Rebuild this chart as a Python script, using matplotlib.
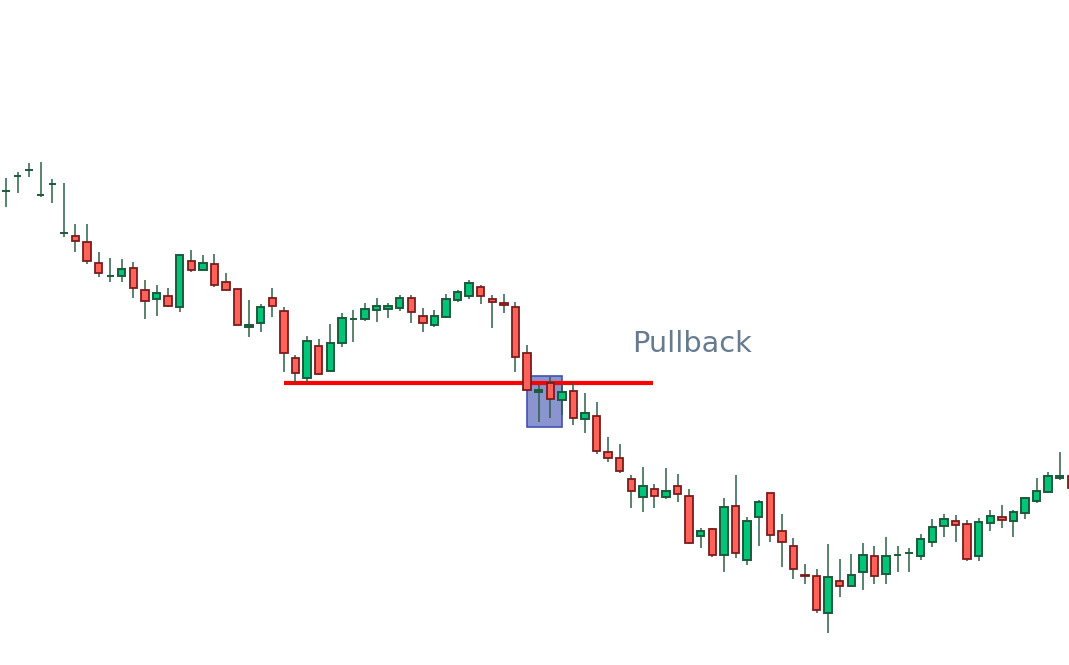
import numpy as np
import matplotlib.pyplot as plt
from matplotlib.patches import Rectangle

# OHLC (arbitrary price scale)
opens = [47.43, 48.9, 49.5, 46.97, 48.13, 43.17, 42.9, 42.27, 40.17, 38.9,
         38.9, 39.67, 37.53, 36.63, 36.93, 35.77, 40.4, 39.5, 40.07, 38.3,
         37.57, 33.77, 34.17, 36.67, 35.43, 30.67, 28.67, 31.9, 29.4, 32.25,
         34.6, 34.6, 35.5, 35.63, 35.73, 36.67, 34.9, 34.0, 34.77, 36.5,
         36.9, 37.77, 36.57, 36.17, 35.83, 31.17, 27.3, 28.17, 26.5, 27.4,
         24.63, 24.9, 21.27, 20.67, 18.57, 16.77, 17.57, 16.77, 17.9, 16.93,
         12.9, 13.57, 11.0, 15.9, 10.5, 14.83, 17.17, 13.43, 11.93, 9.03,
         8.9, 5.17, 8.43, 7.87, 9.27, 10.9, 9.13, 11.0, 11.25, 10.9,
         12.27, 13.9, 14.43, 14.07, 10.9, 14.17, 14.8, 14.4, 15.17, 16.4,
         17.27, 18.67, 18.93]

closes = [47.43, 48.9, 49.5, 46.97, 48.13, 43.17, 42.4, 40.4, 39.17, 38.9,
          39.57, 37.67, 36.4, 37.17, 35.9, 41.03, 39.5, 40.17, 38.0, 37.5,
          34.0, 34.0, 35.83, 35.9, 31.17, 29.17, 32.43, 29.1, 32.17, 34.67,
          34.6, 35.57, 35.9, 35.93, 36.67, 35.27, 34.17, 34.9, 36.57, 37.27,
          38.17, 36.9, 36.27, 36.03, 30.77, 27.5, 27.5, 26.63, 27.27, 24.67,
          25.17, 21.4, 20.67, 19.4, 17.4, 17.9, 16.9, 17.43, 17.07, 12.23,
          13.4, 11.0, 15.83, 11.23, 14.43, 16.33, 13.0, 12.27, 9.6, 8.9,
          5.5, 8.77, 7.87, 9.03, 11.03, 8.9, 10.9, 11.0, 11.25, 12.57,
          13.77, 14.57, 14.03, 10.63, 14.33, 14.9, 14.5, 15.33, 16.67, 17.4,
          18.93, 18.93, 17.67]

highs = [48.7, 49.3, 50.2, 50.33, 48.6, 48.17, 44.1, 44.1, 41.33, 40.67,
         40.6, 40.33, 38.5, 38.0, 37.73, 41.03, 41.5, 41.0, 41.1, 39.23,
         37.57, 36.5, 36.07, 37.67, 35.83, 31.0, 32.93, 32.6, 34.1, 35.17,
         35.5, 36.17, 36.67, 36.17, 37.0, 37.0, 35.67, 35.5, 37.1, 37.5,
         38.5, 38.0, 37.0, 37.1, 36.33, 32.0, 28.0, 28.83, 28.07, 28.17,
         27.17, 26.33, 22.83, 22.1, 19.0, 19.83, 18.1, 19.67, 19.1, 17.6,
         13.67, 13.67, 16.67, 19.0, 14.83, 16.5, 17.17, 15.1, 12.67, 10.1,
         9.57, 12.1, 10.57, 11.07, 12.23, 11.93, 12.83, 11.93, 11.67, 13.07,
         14.57, 15.1, 14.97, 14.5, 14.67, 15.5, 15.97, 15.5, 16.83, 18.67,
         19.33, 21.33, 18.93]

lows = [45.8, 47.2, 48.8, 46.83, 46.23, 42.77, 41.27, 40.1, 38.83, 38.33,
        38.33, 36.73, 34.57, 34.93, 35.77, 35.33, 39.33, 39.5, 37.83, 37.5,
        34.0, 32.83, 33.33, 34.77, 29.33, 28.17, 28.33, 29.0, 29.4, 31.83,
        32.33, 34.43, 34.33, 34.73, 35.43, 34.23, 33.33, 33.83, 34.77, 36.27,
        36.57, 36.1, 33.73, 35.23, 29.33, 27.5, 24.33, 24.73, 25.0, 24.0,
        23.23, 21.1, 20.33, 19.23, 15.73, 15.33, 15.73, 16.6, 16.33, 12.1,
        11.73, 10.77, 9.33, 10.73, 10.0, 11.93, 12.33, 9.83, 8.6, 8.1,
        5.23, 3.23, 6.83, 7.77, 7.5, 8.1, 8.1, 9.33, 9.33, 10.5,
        11.83, 12.77, 12.33, 10.4, 10.4, 13.43, 13.73, 12.83, 14.6, 16.23,
        17.27, 18.5, 17.67]

# annotations
support_level = 28.2
support_span = (24, 55.9)
pullback_box = (45, 48, 23.83, 28.9)   # x0, x1, y0, y1
label_text = "Pullback"
label_pos = (54.1, 31.3)

o = np.array(opens)
c = np.array(closes)
h = np.array(highs)
l = np.array(lows)
x = np.arange(len(o))
up = c >= o

fig = plt.figure(figsize=(10.69, 6.65), dpi=100)
ax = fig.add_axes([0, 0, 1, 1])

# box + level line
x0, x1, y0, y1 = pullback_box
ax.add_patch(Rectangle((x0, y0), x1 - x0, y1 - y0, facecolor="#8a94cf",
                       edgecolor="#3f51b5", linewidth=1.2, zorder=1))
ax.hlines(support_level, support_span[0], support_span[1], color="#ff0000",
          linewidth=3, zorder=2)

# wicks
ax.vlines(x, l, h, color="#2f5f48", linewidth=1.1, zorder=3)

# bodies
w = 0.64
ax.bar(x[up], c[up] - o[up], bottom=o[up], width=w, color="#00c478",
       edgecolor="#1d5a3c", linewidth=1.4, zorder=4)
ax.bar(x[~up], c[~up] - o[~up], bottom=o[~up], width=w, color="#ff6259",
       edgecolor="#7a1c1c", linewidth=1.3, zorder=4)

ax.text(label_pos[0], label_pos[1], label_text, fontsize=20.7,
        color="#667b8f", ha="left", va="baseline", family="DejaVu Sans")

ax.set_xlim(-0.518, 91.8)
ax.set_ylim(0, 66.5)
ax.axis("off")

fig.savefig("out.png", dpi=100)
